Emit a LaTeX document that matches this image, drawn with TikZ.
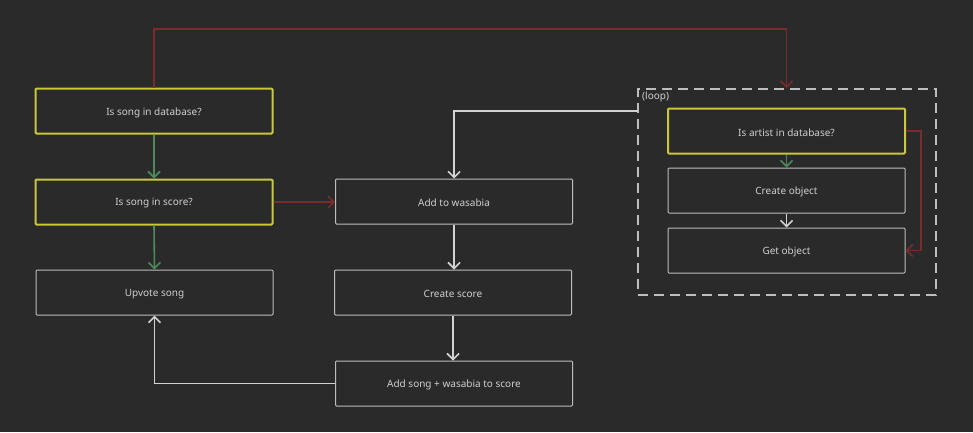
\documentclass[tikz,border=0pt]{standalone}
\usepackage{fontspec}
\setmainfont{Noto Sans}
\usetikzlibrary{arrows.meta,calc}
\definecolor{bg}{HTML}{2A2A2A}
\definecolor{ylw}{HTML}{C8C83A}
\definecolor{grn}{HTML}{4C8A5C}
\definecolor{rd}{HTML}{7A2C2C}
\definecolor{wht}{HTML}{D2D2D2}
\definecolor{gry}{HTML}{BDBDBD}
\definecolor{txt}{HTML}{CFCFCF}
\newcommand{\lowtxt}[1]{\raisebox{-1.5pt}[\height][\depth]{#1}}
\begin{document}
\begin{tikzpicture}[x=1pt,y=-1pt,
  box/.style={draw=gry,line width=1pt,rounded corners=1pt,minimum width=237pt,minimum height=45pt,inner sep=0pt,text=txt,font=\fontsize{10}{12}\selectfont},
  decision/.style={box,draw=ylw,line width=2pt},
  conn/.style={line width=1.6pt,-{Straight Barb[length=6pt,width=12pt,line width=1.6pt]}},
  wline/.style={conn,draw=wht},
  gline/.style={conn,draw=grn},
  rline/.style={conn,draw=rd}]
\fill[bg] (0,0) rectangle (973,432);
\useasboundingbox (0,0) rectangle (973,432);
% loop frame
\node[draw=gry,line width=2pt,dash pattern=on 10pt off 6pt,minimum width=298pt,minimum height=206pt,inner sep=0pt] (loop) at (787,192) {};
\node[anchor=north west,inner sep=0pt,text=txt,font=\fontsize{10}{12}\selectfont] (looplbl) at (642,92) {(loop)};
% boxes
\node[decision] (A) at (154,111) {\lowtxt{Is song in database?}};
\node[decision] (B) at (154,202) {\lowtxt{Is song in score?}};
\node[box] (C) at (154.5,292.5) {\lowtxt{Upvote song}};
\node[box] (D) at (454,201.5) {\lowtxt{Add to wasabia}};
\node[box] (E) at (453,292.5) {\lowtxt{Create score}};
\node[box] (F) at (454,383.5) {\lowtxt{Add song + wasabia to score}};
\node[decision] (G) at (786.5,131) {\lowtxt{Is artist in database?}};
\node[box] (H) at (786.5,190.5) {\lowtxt{Create object}};
\node[box] (I) at (786.5,250.5) {\lowtxt{Get object}};
% connectors
\coordinate (top) at (154,29);
\coordinate (lp) at (638,111);
\draw[rline] (A.north) -- (A.north |- top) -| (G.north |- loop.north);
\draw[gline] (A.south) -- (B.north);
\draw[rline] (B.east) -- (B.east -| D.west);
\draw[gline] (B.south) -- (C.north);
\draw[wline] (lp) -| (D.north);
\draw[wline] (D.south) -- (D.south |- E.north);
\draw[wline] (E.south) -- (E.south |- F.north);
\draw[wline] (F.west) -| (C.south);
\draw[gline] (G.south) -- (H.north);
\draw[wline] (H.south) -- (I.north);
\draw[rline] (G.east) -- ++(15,0) |- (I.east);
\end{tikzpicture}
\end{document}
